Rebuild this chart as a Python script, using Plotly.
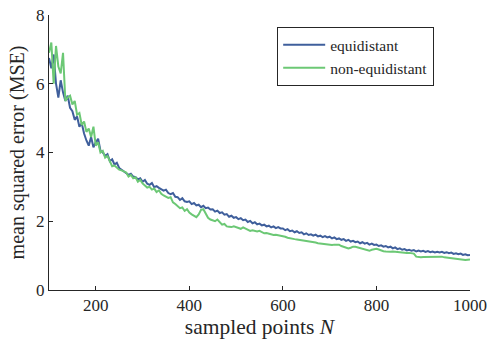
import plotly.graph_objects as go

N = list(range(100, 1001, 5))

equidistant = [
    6.75, 6.45, 6.85, 6.0, 5.6, 6.1, 5.75, 5.5, 5.65, 5.3,
    5.2, 4.95, 5.05, 4.75, 4.85, 4.55, 4.35, 4.2, 4.45, 4.15,
    4.3, 4.4, 4.05, 4.0, 3.9, 3.95, 3.75, 3.8, 3.65, 3.7,
    3.55, 3.5, 3.45, 3.42, 3.35, 3.38, 3.3, 3.28, 3.22, 3.25,
    3.15, 3.20, 3.09, 3.06, 3.11, 2.99, 3.02, 2.97, 2.93, 2.89,
    2.92, 2.82, 2.79, 2.82, 2.71, 2.70, 2.62, 2.67, 2.58, 2.56,
    2.58, 2.50, 2.53, 2.46, 2.48, 2.41, 2.45, 2.38, 2.40, 2.34,
    2.35, 2.28, 2.31, 2.24, 2.26, 2.19, 2.21, 2.13, 2.16, 2.10,
    2.12, 2.06, 2.09, 2.03, 2.05, 1.98, 2.01, 1.94, 1.97, 1.91,
    1.93, 1.88, 1.90, 1.85, 1.87, 1.82, 1.85, 1.80, 1.83, 1.79,
    1.79, 1.74, 1.77, 1.71, 1.73, 1.68, 1.71, 1.66, 1.68, 1.62,
    1.65, 1.60, 1.62, 1.58, 1.61, 1.56, 1.58, 1.54, 1.57, 1.53,
    1.55, 1.50, 1.53, 1.48, 1.50, 1.46, 1.48, 1.43, 1.46, 1.41,
    1.43, 1.39, 1.41, 1.36, 1.39, 1.35, 1.37, 1.32, 1.35, 1.31,
    1.32, 1.28, 1.30, 1.26, 1.28, 1.24, 1.26, 1.21, 1.24, 1.19,
    1.21, 1.17, 1.19, 1.15, 1.17, 1.14, 1.16, 1.12, 1.15, 1.12,
    1.14, 1.11, 1.13, 1.10, 1.12, 1.09, 1.11, 1.09, 1.11, 1.08,
    1.10, 1.07, 1.09, 1.05, 1.07, 1.04, 1.06, 1.02, 1.04, 1.01,
    1.02,
]

non_equidistant = [
    6.9, 7.2, 6.0, 7.1, 6.5, 6.3, 6.9, 5.5, 5.6, 5.65,
    5.4, 5.5, 5.1, 5.15, 4.8, 4.9, 4.6, 4.7, 4.45, 4.75,
    4.2, 4.3, 4.0, 4.05, 3.85, 3.9, 3.75, 3.6, 3.62, 3.55,
    3.5, 3.48, 3.45, 3.42, 3.3, 3.35, 3.25, 3.28, 3.15, 3.2,
    3.1, 3.05, 2.98, 3.0, 2.92, 2.95, 2.85, 2.9, 2.8, 2.75,
    2.72, 2.68, 2.7, 2.55, 2.5, 2.45, 2.38, 2.4, 2.3, 2.35,
    2.25, 2.2, 2.15, 2.12, 2.2, 2.33, 2.35, 2.2, 2.1, 2.05,
    2.02, 2.0, 2.05, 1.98, 1.9, 1.92, 1.85, 1.84, 1.83, 1.85,
    1.82, 1.8, 1.78, 1.82, 1.79, 1.75, 1.72, 1.74, 1.73, 1.7,
    1.72, 1.68, 1.65, 1.66, 1.64, 1.62, 1.6, 1.61, 1.6, 1.58,
    1.56, 1.55, 1.52, 1.5, 1.5, 1.48, 1.47, 1.46, 1.44, 1.45,
    1.42, 1.41, 1.42, 1.4, 1.38, 1.36, 1.35, 1.34, 1.33, 1.32,
    1.3, 1.31, 1.32, 1.33, 1.32, 1.28, 1.25, 1.22, 1.21, 1.23,
    1.26, 1.26, 1.24, 1.22, 1.2, 1.17, 1.15, 1.14, 1.17, 1.19,
    1.2, 1.18, 1.15, 1.13, 1.12, 1.11, 1.11, 1.12, 1.11, 1.1,
    1.09, 1.09, 1.08, 1.08, 1.08, 1.07, 1.06, 0.97, 0.95, 0.95,
    0.96, 0.96, 0.97, 0.96, 0.97, 0.98, 0.97, 0.97, 0.97, 0.95,
    0.94, 0.93, 0.91, 0.9, 0.89, 0.88, 0.88, 0.87, 0.87, 0.88,
    0.89,
]

BLUE = "#3f5f9c"
GREEN = "#6cc875"
FONT = "Liberation Serif, DejaVu Serif, serif"
INK = "#262626"

fig = go.Figure()
fig.add_trace(go.Scatter(x=N, y=equidistant, mode="lines", name="equidistant",
                         line=dict(color=BLUE, width=2)))
fig.add_trace(go.Scatter(x=N, y=non_equidistant, mode="lines", name="non-equidistant",
                         line=dict(color=GREEN, width=2)))

axis_common = dict(showline=True, linecolor=INK, linewidth=1, mirror=False,
                   ticks="inside", ticklen=4, tickcolor=INK, showgrid=False,
                   zeroline=False, automargin=False,
                   tickfont=dict(family=FONT, size=17, color=INK))

fig.update_layout(
    width=489, height=342,
    margin=dict(l=49, r=19, t=15, b=52),
    paper_bgcolor="white", plot_bgcolor="white",
    font=dict(family=FONT, size=17, color=INK),
    xaxis=dict(range=[100, 1000], tickvals=[200, 400, 600, 800, 1000],
               title=dict(text="sampled points <i>N</i>", standoff=4,
                          font=dict(family=FONT, size=21.5, color=INK)),
               **axis_common),
    yaxis=dict(range=[0, 8], tickvals=[0, 2, 4, 6, 8],
               title=dict(text="mean squared error (MSE)", standoff=6,
                          font=dict(family=FONT, size=20, color=INK)),
               **axis_common),
    legend=dict(x=0.542, y=0.956, xanchor="left", yanchor="top",
                bgcolor="white", bordercolor=INK, borderwidth=1,
                itemwidth=42,
                font=dict(family=FONT, size=15.5, color=INK), tracegroupgap=0),
    showlegend=True,
)

fig.write_html("out.html", config={"displayModeBar": False},
               post_script="document.body.style.margin='0';")
